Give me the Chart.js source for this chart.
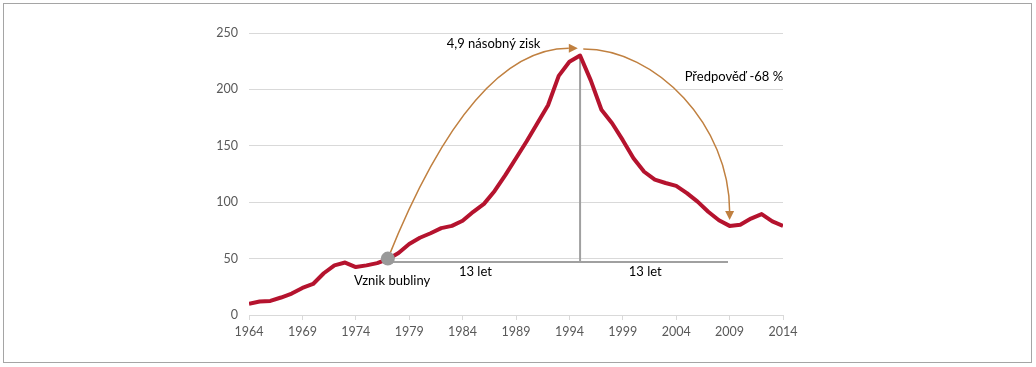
<!DOCTYPE html>
<html>
<head>
<meta charset="utf-8">
<script src="https://cdn.jsdelivr.net/npm/chart.js@4.4.0/dist/chart.umd.min.js"></script>
<style>
  body { margin: 0; background: #fff; }
  .frame { position: absolute; left: 3px; top: 3px; width: 1027px; height: 358px; border: 1px solid #a5a5a5; }
  .wrap { position: absolute; left: 0; top: 0; width: 1036px; height: 367px; }
</style>
</head>
<body>
<div class="frame"></div>
<div class="wrap"><canvas id="bubble"></canvas></div>
<script>
// data
const years = [];
for (let y = 1964; y <= 2014; y++) years.push(y);
const prices = [
  10, 12, 12.5, 15.5, 19, 24, 27.5, 37, 44, 46.5,
  42.5, 44, 46, 49.5, 55, 63, 68.5, 72.5, 77, 79,
  83.5, 91.5, 98.5, 110, 124, 139, 154, 170, 186, 212,
  224.5, 230, 208, 182, 170, 155, 139, 127, 120, 117,
  114.5, 108, 100.5, 91.5, 84, 79, 80, 85.5, 89.5, 83,
  79
];
const yTicks = [0, 50, 100, 150, 200, 250];

// annotation anchors (year, value)
const bubbleStart = [1977, 50];
const bubblePeak = [1995, 230];
const spanLine = [1977.2, 2008.85, 47];
const gainArrowEnd = [1994.6, 236.5];
const dropArrowStart = [1995.3, 235.8];
const dropArrowEnd = [2009, 85];
const labels = [
  { text: '4,9 násobný zisk', x: 1986.9, y: 240.5 },
  { text: 'Předpověď -68 %', x: 2009.4, y: 211 },
  { text: 'Vznik bubliny', x: 1977.4, y: 30.2 },
  { text: '13 let', x: 1985.2, y: 38.5 },
  { text: '13 let', x: 2001.1, y: 38.5 }
];

const FONT = 'Lato, "Open Sans", sans-serif';
const ARC = '#c08040';

function arrowHead(ctx, x, y, dir) {
  ctx.beginPath();
  if (dir === 'right') {
    ctx.moveTo(x, y); ctx.lineTo(x - 9, y - 4.5); ctx.lineTo(x - 9, y + 4.5);
  } else {
    ctx.moveTo(x, y); ctx.lineTo(x - 4.5, y - 9); ctx.lineTo(x + 4.5, y - 9);
  }
  ctx.closePath();
  ctx.fill();
}

const notes = {
  id: 'notes',
  beforeDatasetsDraw(chart) {
    const { ctx, scales: { x, y } } = chart;
    ctx.save();
    ctx.strokeStyle = '#a0a0a0';
    ctx.lineWidth = 2;
    ctx.beginPath();
    ctx.moveTo(x.getPixelForValue(spanLine[0]), y.getPixelForValue(spanLine[2]));
    ctx.lineTo(x.getPixelForValue(spanLine[1]), y.getPixelForValue(spanLine[2]));
    ctx.moveTo(x.getPixelForValue(bubblePeak[0]), y.getPixelForValue(bubblePeak[1]));
    ctx.lineTo(x.getPixelForValue(bubblePeak[0]), y.getPixelForValue(spanLine[2]));
    ctx.stroke();
    ctx.restore();
  },
  afterDatasetsDraw(chart) {
    const { ctx, scales: { x, y } } = chart;
    ctx.save();

    // gain arc
    const x0 = x.getPixelForValue(bubbleStart[0]), y0 = y.getPixelForValue(bubbleStart[1]);
    const x1 = x.getPixelForValue(gainArrowEnd[0]), y1 = y.getPixelForValue(gainArrowEnd[1]);
    ctx.strokeStyle = ARC;
    ctx.fillStyle = ARC;
    ctx.lineWidth = 1.5;
    ctx.beginPath();
    ctx.moveTo(x0, y0);
    ctx.quadraticCurveTo(x0 + (y0 - y1) * 0.4, y1, x1 - 7, y1);
    ctx.stroke();
    arrowHead(ctx, x1 + 2, y1, 'right');

    // drop arc
    const x2 = x.getPixelForValue(dropArrowStart[0]), y2 = y.getPixelForValue(dropArrowStart[1]);
    const x3 = x.getPixelForValue(dropArrowEnd[0]), y3 = y.getPixelForValue(dropArrowEnd[1]);
    ctx.beginPath();
    ctx.moveTo(x2, y2);
    ctx.bezierCurveTo(x2 + (x3 - x2) * 0.5, y2, x3, y2 + (y3 - y2) * 0.45, x3, y3 - 8);
    ctx.stroke();
    arrowHead(ctx, x3, y3 + 1, 'down');

    // start of bubble
    ctx.fillStyle = '#999999';
    ctx.beginPath();
    ctx.arc(x0, y0, 7, 0, Math.PI * 2);
    ctx.fill();

    ctx.fillStyle = '#000';
    ctx.font = '13px ' + FONT;
    ctx.textAlign = 'center';
    ctx.textBaseline = 'middle';
    labels.forEach(l => ctx.fillText(l.text, x.getPixelForValue(l.x), y.getPixelForValue(l.y)));
    ctx.restore();
  }
};

const ctx = document.getElementById('bubble').getContext('2d');
new Chart(ctx, {
  type: 'line',
  data: {
    datasets: [{
      data: years.map((yr, i) => ({ x: yr, y: prices[i] })),
      borderColor: '#b5132e',
      borderWidth: 4,
      tension: 0,
      pointRadius: 0,
      borderJoinStyle: 'round',
      fill: false
    }]
  },
  options: {
    responsive: true,
    maintainAspectRatio: false,
    animation: false,
    layout: { padding: { left: 200, right: 253, top: 33, bottom: 22 } },
    plugins: { legend: { display: false }, tooltip: { enabled: false } },
    scales: {
      x: {
        type: 'linear',
        min: years[0],
        max: years[years.length - 1],
        afterFit: s => { s.height = 30; },
        grid: { drawOnChartArea: false, drawTicks: true, tickLength: 5, color: '#d9d9d9' },
        border: { color: '#d9d9d9' },
        ticks: {
          stepSize: 5,
          padding: 4,
          color: '#595959',
          font: { family: FONT, size: 12.5 },
          maxRotation: 0,
          callback: v => String(v)
        }
      },
      y: {
        min: yTicks[0],
        max: yTicks[yTicks.length - 1],
        afterFit: s => { s.width = 49; },
        afterBuildTicks: s => { s.ticks = yTicks.map(v => ({ value: v })); },
        grid: { drawTicks: false, color: '#d9d9d9' },
        border: { display: false },
        ticks: { padding: 11, color: '#595959', font: { family: FONT, size: 12.5 } }
      }
    }
  },
  plugins: [notes]
});
</script>
</body>
</html>
